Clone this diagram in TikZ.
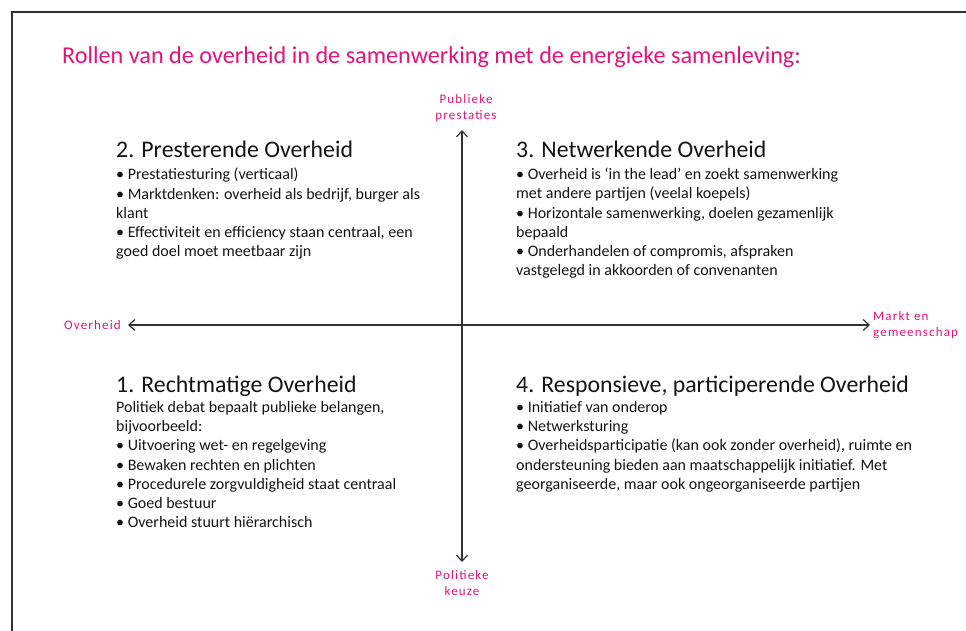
\documentclass[tikz,border=0pt]{standalone}
\usepackage{fontspec}
\setmainfont{Carlito}
\usetikzlibrary{arrows.meta}
\definecolor{roze}{RGB}{226,20,122}
\definecolor{tekst}{RGB}{20,20,20}
\definecolor{lijn}{RGB}{50,50,50}
\tikzset{
  kop/.style={anchor=base west, inner sep=0pt, text=tekst,
    font=\fontsize{23.8}{28}\selectfont},
  lijst/.style={anchor=north west, inner sep=0pt, align=left, text=tekst,
    font=\fontsize{16}{19.25}\selectfont},
  aslabel/.style={inner sep=0pt, align=center, text=roze,
    font=\fontsize{13}{16.5}\selectfont\addfontfeatures{LetterSpace=9}},
  as/.style={draw=lijn, line width=1.3pt,
    arrows={Straight Barb[length=6pt,width=11pt,line width=1.2pt]-Straight Barb[length=6pt,width=11pt,line width=1.2pt]}}
}
\begin{document}
\begin{tikzpicture}[x=1pt,y=-1pt]
  \useasboundingbox (0,0) rectangle (966,631);
  % slide frame
  \draw[lijn, line width=1.5pt] (12,640) -- (12,12) -- (975,12);

  % title
  \node[anchor=base west, inner sep=0pt, text=roze,
        font=\fontsize{24.2}{28}\selectfont] (titel) at (62,64)
    {Rollen van de overheid in de samenwerking met de energieke samenleving:};

  % axes
  \coordinate (boven) at (462,130);
  \coordinate (onder) at (462,562);
  \coordinate (links) at (128,325);
  \coordinate (rechts) at (870,325);
  \draw[as] (onder) -- (boven);
  \draw[as] (links) -- (rechts);

  % axis labels
  \node[aslabel, anchor=south] (lboven) at (466,122) {Publieke\\prestaties};
  \node[aslabel, anchor=north] (londer) at (462,570) {Politieke\\keuze};
  \node[aslabel, anchor=east] (llinks) at (121,325) {Overheid};
  \node[aslabel, anchor=west, align=left] (lrechts) at (873,325) {Markt en\\gemeenschap};

  % quadrant 2
  \node[kop] (k2) at (116,158) {2. Presterende Overheid};
  \node[lijst] (t2) at (116,168) {%
    • Prestatiesturing (verticaal)\\
    • Marktdenken: overheid als bedrijf,  burger als\\
    klant\\
    • Effectiviteit en efficiency staan centraal, een\\
    goed doel moet meetbaar zijn};

  % quadrant 3
  \node[kop] (k3) at (516,158) {3. Netwerkende Overheid};
  \node[lijst] (t3) at (516,168) {%
    • Overheid is ‘in the lead’ en zoekt samenwerking\\
    met andere partijen (veelal koepels)\\
    • Horizontale samenwerking, doelen gezamenlijk\\
    bepaald\\
    • Onderhandelen of compromis, afspraken\\
    vastgelegd in akkoorden of convenanten};

  % quadrant 1
  \node[kop] (k1) at (116,392) {1. Rechtmatige Overheid};
  \node[lijst] (t1) at (116,401) {%
    Politiek debat bepaalt publieke belangen,\\
    bijvoorbeeld:\\
    • Uitvoering wet- en regelgeving\\
    • Bewaken rechten en plichten\\
    • Procedurele zorgvuldigheid staat centraal\\
    • Goed bestuur\\
    • Overheid stuurt hiërarchisch};

  % quadrant 4
  \node[kop] (k4) at (516,392) {4. Responsieve, participerende Overheid};
  \node[lijst] (t4) at (516,401) {%
    • Initiatief van onderop\\
    • Netwerksturing\\
    • Overheidsparticipatie (kan ook  zonder overheid),  ruimte en\\
    ondersteuning bieden aan maatschappelijk initiatief. Met\\
    georganiseerde, maar ook ongeorganiseerde partijen};
\end{tikzpicture}
\end{document}
